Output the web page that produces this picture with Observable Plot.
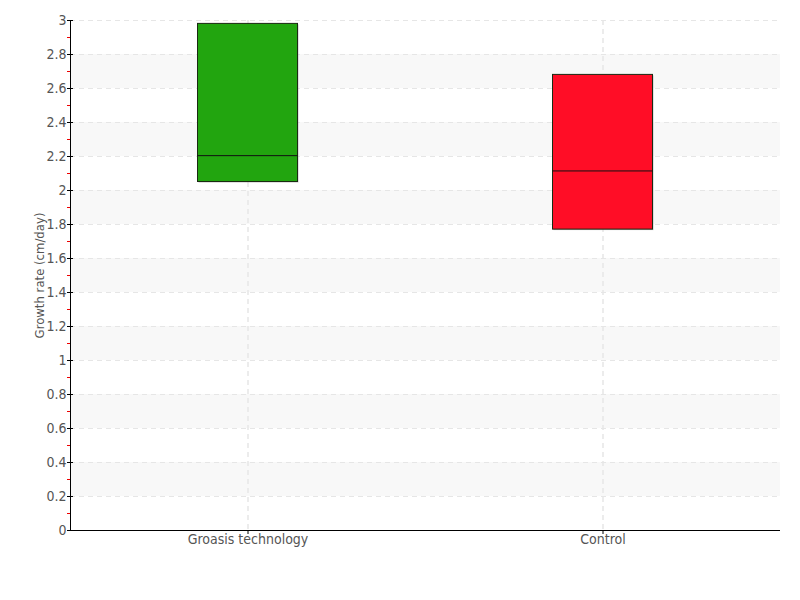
<!DOCTYPE html>
<html>
<head>
<meta charset="utf-8">
<script src="https://cdn.jsdelivr.net/npm/d3@7"></script>
<script src="https://cdn.jsdelivr.net/npm/@observablehq/plot@0.6"></script>
<style>
  html, body { margin: 0; padding: 0; background: #fff; }
  #chart { width: 800px; height: 600px; }
  #chart svg { font-stretch: condensed; }
</style>
</head>
<body>
<div id="chart"></div>
<script>
const categories = ["Groasis technology", "Control"];
const q1 = [2.05, 1.77];
const median = [2.205, 2.115];
const q3 = [2.98, 2.68];
const colors = ["#22a50f", "#ff0d26"];
const majorTicks = [0, 0.2, 0.4, 0.6, 0.8, 1, 1.2, 1.4, 1.6, 1.8, 2, 2.2, 2.4, 2.6, 2.8, 3];
const minorTicks = [0.1, 0.3, 0.5, 0.7, 0.9, 1.1, 1.3, 1.5, 1.7, 1.9, 2.1, 2.3, 2.5, 2.7, 2.9];
const bandStarts = [0.2, 0.6, 1.0, 1.4, 1.8, 2.2, 2.6];

const boxes = categories.map((c, i) => ({cat: c, q1: q1[i], median: median[i], q3: q3[i], color: colors[i]}));
const bands = bandStarts.map(b => ({y1: b, y2: b + 0.2}));

const fontFamily = "'DejaVu Sans Condensed', 'DejaVu Sans', sans-serif";
const inset = (355 - 100) / 2;

const plot = Plot.plot({
  width: 800,
  height: 600,
  marginLeft: 70,
  marginRight: 20,
  marginTop: 20,
  marginBottom: 70,
  style: {fontFamily, fontSize: "14px", color: "#555", background: "#fff"},
  x: {domain: categories, padding: 0, axis: null},
  y: {domain: [0, 3], axis: null},
  marks: [
    Plot.rect(bands, {y1: "y1", y2: "y2", fill: "#f8f8f8"}),
    Plot.ruleY(majorTicks.slice(1), {stroke: "#e6e6e6", strokeDasharray: "5,4"}),
    Plot.ruleX(categories, {x: d => d, stroke: "#e6e6e6", strokeDasharray: "5,4", strokeWidth: 1.5}),
    Plot.barY(boxes, {x: "cat", y1: "q1", y2: "q3", fill: "#888", fillOpacity: 0.5, insetLeft: inset, insetRight: inset, dx: 1, dy: 1}),
    Plot.barY(boxes, {x: "cat", y1: "q1", y2: "q3", fill: "color", stroke: "#1a2a12", strokeWidth: 1, insetLeft: inset, insetRight: inset}),
    Plot.tickY(boxes, {x: "cat", y: "median", stroke: "#111", strokeWidth: 1, insetLeft: inset, insetRight: inset}),
    Plot.axisY({ticks: minorTicks, tickSize: 3, stroke: "#e00", text: null, label: null}),
    Plot.axisY({ticks: majorTicks, tickSize: 3, stroke: "#000", tickFormat: d => String(+d.toFixed(1)), fill: "#555", fontSize: 14, tickPadding: 1, label: null}),
    Plot.axisY({ticks: majorTicks, tickSize: -3, stroke: "#000", text: null, label: null}),
    Plot.frame({anchor: "left", stroke: "#000"}),
    Plot.ruleY([0], {stroke: "#000", strokeWidth: 1.2}),
    Plot.axisX({tickSize: 4, stroke: "#000", fill: "#555", fontSize: 14, tickPadding: 0, label: null}),
    Plot.text(["Growth rate (cm/day)"], {frameAnchor: "left", textAnchor: "middle", rotate: -90, dx: -31, fontSize: 13, fill: "#555", text: d => d})
  ]
});
document.getElementById("chart").appendChild(plot);
</script>
</body>
</html>
